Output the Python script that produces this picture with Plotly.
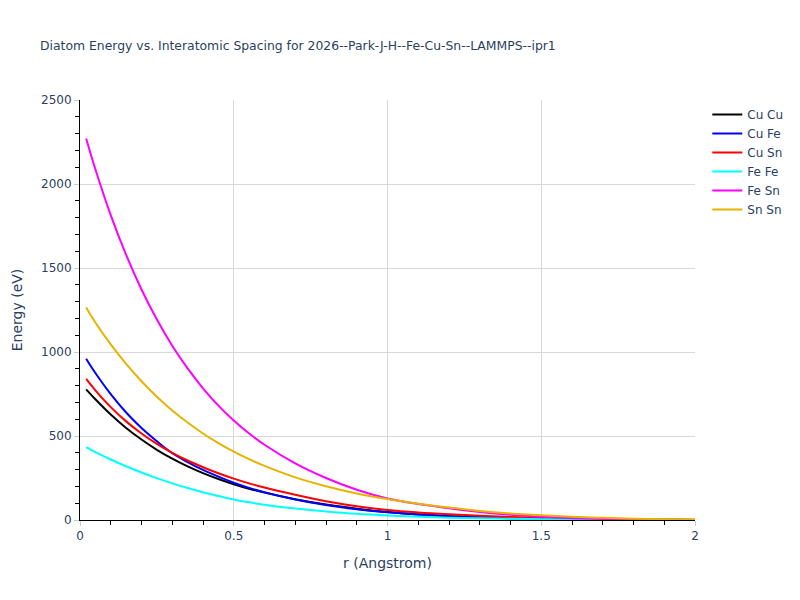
import plotly.graph_objects as go

r = [0.02, 0.05, 0.10, 0.15, 0.20, 0.25, 0.30, 0.35, 0.40, 0.45, 0.50, 0.55, 0.60,
     0.70, 0.80, 0.90, 1.00, 1.10, 1.20, 1.30, 1.40, 1.50, 1.60, 1.70, 1.80, 1.90, 2.00]

cu_cu = [778, 719, 628, 548, 479, 418, 365, 319, 279, 244, 213, 186, 163,
         124, 92, 67, 47, 33, 23, 16, 11, 7, 5, 3, 2, 1, 0.5]
cu_fe = [960, 875, 749, 640, 548, 469, 398, 345, 298, 258, 222, 191, 165,
         122, 89, 64, 46, 32, 23, 16, 11, 7, 5, 3, 2, 1, 0.5]
cu_sn = [840, 772, 672, 587, 515, 453, 400, 354, 314, 278, 246, 218, 193,
         150, 112, 82, 60, 45, 34, 25, 18, 13, 9, 6, 4, 2, 1]
fe_fe = [434, 404, 360, 320, 283, 249, 218, 190, 165, 143, 122, 105, 91,
         68, 51, 37, 27, 20, 14, 10, 7, 5, 3, 2, 1.5, 1, 0.5]
fe_sn = [2271, 2088, 1815, 1578, 1372, 1193, 1037, 902, 784, 681, 592, 515, 448,
         337, 250, 180, 128, 95, 70, 48, 31, 19, 11, 6, 3, 1.5, 0.5]
sn_sn = [1265, 1176, 1045, 929, 826, 734, 652, 580, 515, 458, 407, 362, 322,
         254, 201, 158, 125, 97, 74, 54, 39, 28, 19, 13, 8, 5, 3]

series = [
    ("Cu Cu", cu_cu, "black"),
    ("Cu Fe", cu_fe, "blue"),
    ("Cu Sn", cu_sn, "red"),
    ("Fe Fe", fe_fe, "cyan"),
    ("Fe Sn", fe_sn, "magenta"),
    ("Sn Sn", sn_sn, "#e6b400"),
]

fig = go.Figure()
for name, ys, color in series:
    fig.add_trace(go.Scatter(x=r, y=ys, mode="lines", name=name,
                             line=dict(color=color, width=2, shape="spline", smoothing=1)))

axis_common = dict(
    showline=True, linecolor="black", linewidth=1,
    ticks="outside", tickcolor="#cccccc", ticklen=5,
    showgrid=True, gridcolor="#d9d9d9", zeroline=False,
    title_font=dict(size=14),
)

fig.update_layout(
    template="plotly_white",
    width=800, height=600,
    font=dict(family="DejaVu Sans", size=12),
    title=dict(text="Diatom Energy vs. Interatomic Spacing for 2026--Park-J-H--Fe-Cu-Sn--LAMMPS--ipr1",
               font=dict(size=12.4)),
    xaxis=dict(title="r (Angstrom)", range=[0, 2], dtick=0.5,
               minor=dict(dtick=0.1, ticks="outside", ticklen=4, tickcolor="black", showgrid=False),
               **axis_common),
    yaxis=dict(title="Energy (eV)", range=[0, 2500], dtick=500,
               minor=dict(dtick=100, ticks="outside", ticklen=4, tickcolor="black", showgrid=False),
               **axis_common),
    plot_bgcolor="white",
    paper_bgcolor="white",
)

fig.write_html("out.html")
